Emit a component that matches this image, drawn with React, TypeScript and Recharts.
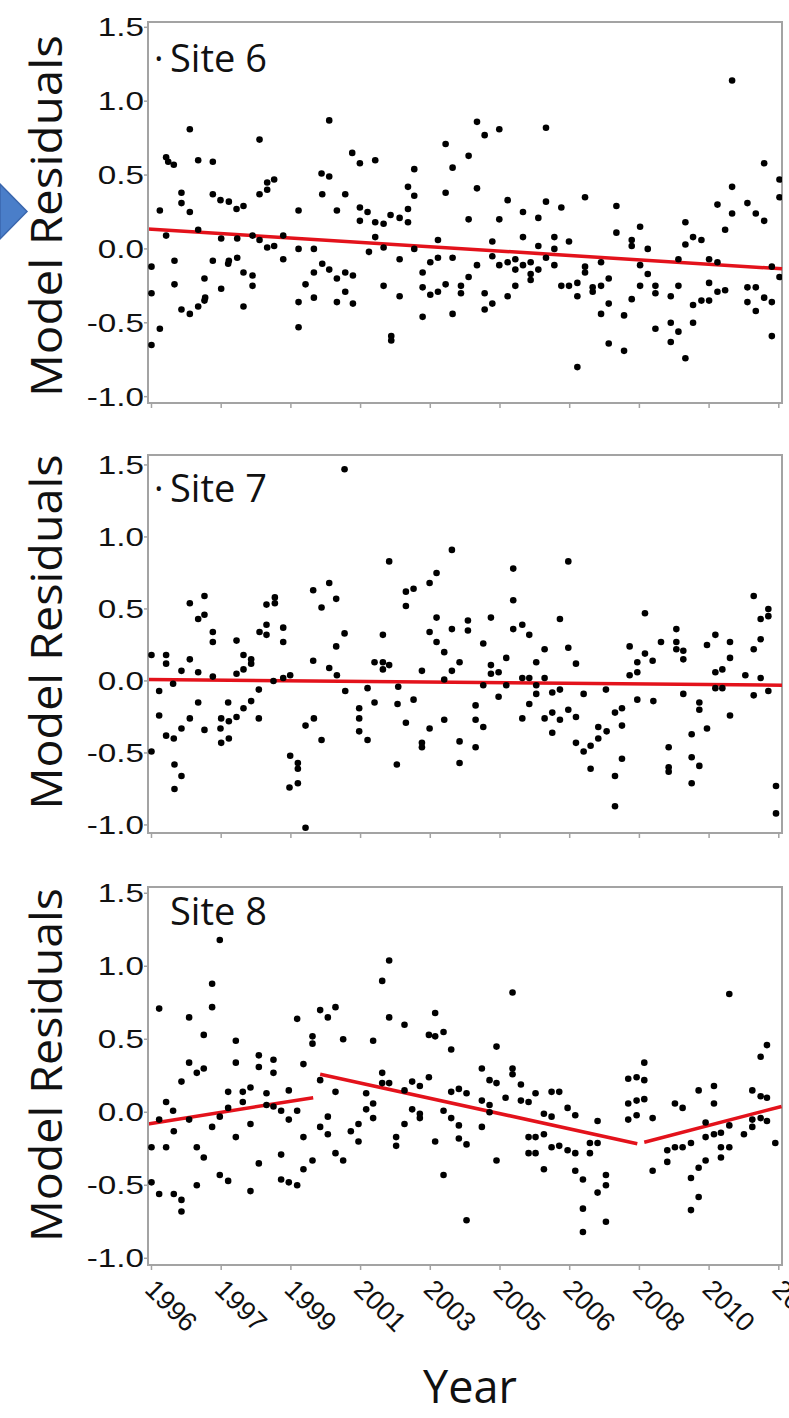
import React from 'react';
import {
  ScatterChart,
  Scatter,
  XAxis,
  YAxis,
  ReferenceLine,
  ReferenceArea,
  Customized,
} from 'recharts';

// x position is measured in tick steps (0 = first labelled year tick)
const yearLabels = ['1996', '1997', '1999', '2001', '2003', '2005', '2006', '2008', '2010', '2012'];
const xTicks = [0, 1, 2, 3, 4, 5, 6, 7, 8, 9];
const yTicks = [-1, -0.5, 0, 0.5, 1, 1.5];

const site6Points: [number, number][] = [
  [0.0, -0.12], [0.0, -0.3], [0.0, -0.65], [0.12, 0.26], [0.12, -0.54], [0.21, 0.62], [0.24, 0.59], [0.21, 0.09],
  [0.32, 0.57], [0.33, -0.08], [0.33, -0.24], [0.43, 0.38], [0.43, 0.31], [0.43, -0.41], [0.55, 0.81], [0.55, 0.25],
  [0.55, -0.44], [0.67, 0.6], [0.67, 0.13], [0.67, -0.39], [0.76, -0.2], [0.76, -0.35], [0.77, -0.33], [0.88, 0.59],
  [0.88, 0.37], [0.88, -0.08], [0.99, 0.33], [1.0, 0.07], [1.0, -0.27], [1.11, 0.32], [1.11, -0.08], [1.1, -0.1],
  [1.22, 0.27], [1.23, 0.07], [1.23, -0.06], [1.32, 0.29], [1.32, -0.39], [1.32, -0.16], [1.45, 0.09], [1.45, -0.18],
  [1.45, -0.25], [1.55, 0.74], [1.55, 0.37], [1.55, 0.06], [1.66, 0.4], [1.66, 0.45], [1.66, 0.01], [1.76, 0.47],
  [1.76, 0.02], [1.89, 0.09], [1.89, -0.07], [2.11, 0.26], [2.11, 0.0], [2.11, -0.36], [2.11, -0.53], [2.21, -0.24],
  [2.33, 0.0], [2.33, -0.16], [2.33, -0.33], [2.44, 0.51], [2.45, 0.37], [2.45, -0.1], [2.55, 0.87], [2.55, 0.49],
  [2.55, -0.14], [2.66, 0.26], [2.66, -0.2], [2.66, -0.36], [2.78, 0.37], [2.78, -0.16], [2.78, -0.29], [2.88, 0.65],
  [2.89, -0.18], [2.89, -0.37], [2.99, 0.58], [2.99, 0.28], [2.99, 0.19], [3.1, 0.25], [3.12, -0.02], [3.21, 0.6],
  [3.21, 0.18], [3.21, 0.08], [3.33, 0.17], [3.33, 0.01], [3.33, -0.25], [3.44, -0.59], [3.44, -0.62], [3.43, 0.23],
  [3.56, 0.21], [3.56, -0.07], [3.56, -0.32], [3.68, 0.42], [3.68, 0.27], [3.68, 0.18], [3.77, 0.54], [3.77, 0.36],
  [3.77, 0.0], [3.89, -0.16], [3.89, -0.26], [3.89, -0.46], [4.0, -0.09], [4.0, -0.31], [4.11, 0.06], [4.11, -0.06],
  [4.11, -0.29], [4.22, 0.71], [4.22, 0.38], [4.22, -0.24], [4.32, 0.55], [4.32, -0.06], [4.32, -0.44], [4.44, -0.25],
  [4.44, -0.3], [4.55, 0.63], [4.55, 0.2], [4.55, -0.19], [4.67, 0.86], [4.67, 0.41], [4.67, -0.11], [4.78, 0.77],
  [4.78, -0.3], [4.78, -0.41], [4.89, 0.05], [4.89, -0.05], [4.89, -0.37], [4.99, 0.81], [4.99, 0.2], [4.99, -0.11],
  [5.11, 0.33], [5.11, -0.09], [5.11, -0.32], [5.22, -0.07], [5.22, -0.14], [5.22, -0.25], [5.33, 0.25], [5.33, 0.08],
  [5.33, -0.11], [5.44, -0.09], [5.44, -0.17], [5.44, -0.21], [5.55, 0.21], [5.55, 0.02], [5.55, -0.14], [5.66, 0.82],
  [5.66, 0.32], [5.66, -0.06], [5.78, 0.08], [5.78, 0.0], [5.78, -0.11], [5.88, 0.28], [5.88, -0.25], [5.99, 0.05],
  [5.99, -0.25], [6.11, -0.23], [6.11, -0.32], [6.11, -0.8], [6.22, 0.35], [6.22, -0.12], [6.22, -0.16], [6.33, -0.26],
  [6.33, -0.29], [6.45, -0.09], [6.45, -0.25], [6.45, -0.44], [6.56, -0.2], [6.56, -0.37], [6.56, -0.64], [6.67, 0.29],
  [6.67, 0.11], [6.78, -0.45], [6.78, -0.69], [6.89, 0.06], [6.89, 0.02], [6.89, -0.34], [7.01, 0.15], [7.01, -0.11],
  [7.01, -0.25], [7.12, 0.0], [7.12, -0.17], [7.23, -0.25], [7.23, -0.3], [7.23, -0.54], [7.45, -0.32], [7.45, -0.5],
  [7.45, -0.63], [7.56, -0.07], [7.56, -0.25], [7.56, -0.56], [7.66, 0.18], [7.66, 0.03], [7.66, -0.74], [7.77, 0.08],
  [7.77, -0.38], [7.77, -0.5], [7.89, 0.06], [7.89, -0.35], [8.0, -0.07], [8.0, -0.23], [8.0, -0.35], [8.12, 0.3],
  [8.12, -0.09], [8.12, -0.29], [8.23, 0.13], [8.23, -0.28], [8.33, 1.14], [8.33, 0.42], [8.33, 0.24], [8.55, 0.31],
  [8.55, -0.26], [8.55, -0.36], [8.67, 0.24], [8.67, -0.26], [8.67, -0.42], [8.79, 0.58], [8.79, 0.19], [8.79, -0.33],
  [8.9, -0.12], [8.9, -0.36], [8.9, -0.59], [9.01, 0.47], [9.01, 0.35], [9.01, -0.19],
];

const site7Points: [number, number][] = [
  [0.0, 0.18], [0.0, -0.49], [0.11, -0.07], [0.11, -0.24], [0.21, 0.18], [0.21, 0.12], [0.21, -0.38], [0.31, -0.02],
  [0.32, -0.4], [0.33, -0.58], [0.33, -0.75], [0.43, 0.07], [0.43, -0.33], [0.43, -0.66], [0.55, 0.54], [0.55, 0.15],
  [0.55, -0.26], [0.67, 0.43], [0.67, 0.06], [0.67, -0.15], [0.76, 0.59], [0.76, 0.46], [0.76, -0.34], [0.88, 0.34],
  [0.88, 0.27], [0.88, 0.03], [0.99, -0.33], [1.0, -0.43], [1.0, -0.26], [1.1, -0.15], [1.11, -0.28], [1.11, -0.4],
  [1.22, 0.28], [1.22, 0.05], [1.22, -0.25], [1.32, 0.18], [1.32, 0.08], [1.32, -0.19], [1.43, 0.15], [1.43, 0.12],
  [1.43, -0.14], [1.54, -0.06], [1.54, -0.26], [1.55, 0.34], [1.65, 0.39], [1.65, 0.53], [1.65, 0.32], [1.75, 0.0],
  [1.77, 0.58], [1.77, 0.54], [1.89, 0.37], [1.89, 0.27], [1.89, 0.02], [1.98, -0.74], [1.99, -0.52], [1.99, 0.04],
  [2.1, -0.57], [2.1, -0.61], [2.1, -0.71], [2.21, -0.31], [2.21, -1.02], [2.32, 0.63], [2.32, 0.14], [2.33, -0.26],
  [2.44, 0.51], [2.44, -0.41], [2.55, 0.68], [2.55, 0.09], [2.65, 0.57], [2.65, 0.24], [2.66, 0.04], [2.77, 1.47],
  [2.77, 0.33], [2.78, -0.07], [2.98, -0.19], [2.98, -0.26], [2.98, -0.35], [3.1, -0.05], [3.1, -0.41], [3.2, -0.15],
  [3.2, 0.13], [3.32, 0.32], [3.32, 0.13], [3.32, 0.08], [3.41, 0.83], [3.41, 0.11], [3.53, -0.16], [3.52, -0.58],
  [3.54, -0.04], [3.65, 0.62], [3.65, 0.52], [3.65, -0.29], [3.76, 0.64], [3.76, -0.13], [3.88, 0.07], [3.88, -0.43],
  [3.88, -0.46], [3.99, 0.68], [3.99, 0.34], [3.99, -0.33], [4.09, 0.75], [4.09, 0.44], [4.09, 0.27], [4.2, 0.2],
  [4.2, 0.01], [4.2, -0.27], [4.31, 0.91], [4.31, 0.36], [4.31, 0.07], [4.42, 0.13], [4.42, -0.42], [4.42, -0.57],
  [4.54, 0.42], [4.54, 0.35], [4.65, -0.17], [4.65, -0.27], [4.65, -0.46], [4.76, 0.26], [4.76, -0.03], [4.76, -0.32],
  [4.87, 0.44], [4.87, 0.11], [4.87, 0.05], [4.98, 0.06], [4.98, -0.11], [5.09, 0.16], [5.09, -0.03], [5.19, 0.78],
  [5.19, 0.56], [5.19, 0.36], [5.32, 0.39], [5.32, 0.02], [5.32, -0.26], [5.42, 0.32], [5.42, 0.02], [5.42, -0.16],
  [5.52, 0.13], [5.52, -0.03], [5.52, -0.09], [5.64, 0.22], [5.64, 0.02], [5.64, -0.26], [5.75, -0.08], [5.75, -0.22],
  [5.75, -0.36], [5.86, 0.43], [5.86, -0.06], [5.86, -0.27], [5.98, 0.83], [5.98, 0.23], [5.98, -0.2], [6.09, 0.12],
  [6.09, -0.25], [6.09, -0.43], [6.2, -0.09], [6.2, -0.49], [6.3, -0.45], [6.3, -0.61], [6.41, -0.32], [6.41, -0.4],
  [6.52, -0.06], [6.53, -0.35], [6.65, -0.22], [6.65, -0.66], [6.65, -0.87], [6.75, -0.19], [6.75, -0.31], [6.75, -0.54],
  [6.86, 0.24], [6.86, 0.04], [6.97, 0.13], [6.97, 0.06], [6.97, -0.13], [7.08, 0.47], [7.08, 0.19], [7.19, 0.14],
  [7.2, -0.14], [7.31, 0.27], [7.42, -0.46], [7.42, -0.6], [7.42, -0.63], [7.53, 0.36], [7.53, 0.27], [7.53, 0.22],
  [7.63, 0.21], [7.63, 0.15], [7.63, -0.09], [7.75, -0.37], [7.75, -0.53], [7.75, -0.71], [7.86, -0.15], [7.86, -0.2],
  [7.86, -0.59], [7.97, 0.25], [7.97, -0.33], [8.09, 0.32], [8.09, 0.06], [8.09, -0.05], [8.19, 0.08], [8.19, -0.05],
  [8.3, 0.27], [8.3, 0.16], [8.3, -0.24], [8.52, 0.04], [8.64, 0.59], [8.64, 0.22], [8.64, -0.1], [8.74, 0.43],
  [8.74, 0.29], [8.74, 0.02], [8.85, 0.5], [8.85, 0.45], [8.85, -0.07], [8.96, -0.73], [8.96, -0.92],
];

const site8Points: [number, number][] = [
  [0.0, -0.24], [0.0, -0.48], [0.11, 0.71], [0.11, -0.56], [0.11, -0.05], [0.21, 0.07], [0.21, -0.24], [0.31, 0.01],
  [0.32, -0.13], [0.32, -0.56], [0.43, 0.21], [0.43, -0.6], [0.43, -0.68], [0.54, 0.65], [0.54, -0.05], [0.54, 0.34],
  [0.65, 0.27], [0.65, -0.24], [0.65, -0.5], [0.75, 0.53], [0.75, 0.3], [0.75, -0.31], [0.87, 0.88], [0.87, 0.72],
  [0.87, -0.1], [0.98, 1.18], [0.98, -0.03], [0.98, -0.43], [1.1, 0.14], [1.1, 0.03], [1.1, -0.47], [1.21, 0.49],
  [1.21, 0.34], [1.21, -0.17], [1.31, 0.14], [1.31, 0.07], [1.42, 0.17], [1.42, -0.08], [1.42, -0.54], [1.54, 0.39],
  [1.54, 0.31], [1.54, -0.35], [1.65, 0.13], [1.65, 0.05], [1.75, 0.36], [1.75, 0.27], [1.75, 0.04], [1.86, 0.01],
  [1.86, -0.29], [1.86, -0.46], [1.97, 0.15], [1.97, -0.05], [1.97, -0.48], [2.09, 0.64], [2.09, 0.01], [2.09, -0.5],
  [2.18, 0.33], [2.18, -0.17], [2.18, -0.39], [2.31, 0.52], [2.31, 0.47], [2.31, -0.33], [2.42, 0.7], [2.42, 0.22],
  [2.42, -0.1], [2.53, 0.65], [2.53, -0.03], [2.53, -0.15], [2.64, 0.72], [2.64, 0.14], [2.64, -0.28], [2.75, 0.5],
  [2.75, -0.33], [2.86, -0.13], [2.97, -0.08], [2.97, -0.2], [3.08, 0.13], [3.08, 0.02], [3.18, 0.49], [3.18, 0.06],
  [3.18, -0.04], [3.31, 0.9], [3.31, 0.27], [3.31, 0.2], [3.41, 1.04], [3.41, 0.65], [3.41, 0.2], [3.51, -0.17],
  [3.51, -0.23], [3.63, 0.6], [3.63, 0.15], [3.63, -0.08], [3.74, 0.21], [3.74, 0.02], [3.85, 0.18], [3.85, -0.01],
  [3.85, -0.04], [3.98, 0.24], [3.98, 0.53], [4.07, 0.68], [4.07, 0.52], [4.07, -0.2], [4.19, 0.55], [4.19, 0.01],
  [4.19, -0.43], [4.3, 0.43], [4.3, 0.14], [4.3, -0.04], [4.41, 0.16], [4.41, -0.09], [4.41, -0.18], [4.52, 0.13],
  [4.52, -0.22], [4.52, -0.74], [4.74, 0.3], [4.74, 0.08], [4.74, -0.1], [4.85, 0.22], [4.85, 0.05], [4.85, 0.0],
  [4.95, 0.45], [4.95, 0.2], [4.95, -0.33], [5.08, 0.1], [5.18, 0.82], [5.18, 0.3], [5.18, 0.26], [5.3, 0.19],
  [5.3, 0.08], [5.41, 0.07], [5.41, -0.17], [5.41, -0.28], [5.51, 0.13], [5.51, -0.17], [5.51, -0.28], [5.63, -0.01],
  [5.63, -0.15], [5.63, -0.39], [5.74, 0.14], [5.74, -0.03], [5.74, -0.24], [5.85, 0.14], [5.85, -0.23], [5.97, 0.03],
  [5.97, -0.26], [6.08, -0.02], [6.08, -0.28], [6.08, -0.4], [6.19, -0.46], [6.19, -0.66], [6.19, -0.82], [6.29, -0.21],
  [6.29, -0.28], [6.4, -0.06], [6.4, -0.21], [6.4, -0.55], [6.52, -0.43], [6.52, -0.5], [6.52, -0.75], [6.84, 0.23],
  [6.84, 0.06], [6.84, -0.05], [6.96, 0.24], [6.96, 0.08], [6.96, -0.02], [7.07, 0.34], [7.07, 0.22], [7.07, 0.09],
  [7.19, -0.04], [7.19, -0.4], [7.4, -0.26], [7.4, -0.34], [7.51, 0.06], [7.51, -0.24], [7.62, 0.03], [7.62, -0.24],
  [7.74, -0.21], [7.74, -0.45], [7.74, -0.67], [7.85, 0.15], [7.85, -0.38], [7.85, -0.58], [7.95, -0.07], [7.95, -0.17],
  [7.95, -0.33], [8.07, 0.18], [8.07, 0.06], [8.07, -0.15], [8.17, -0.14], [8.17, -0.24], [8.17, -0.31], [8.29, 0.81],
  [8.29, -0.09], [8.29, -0.24], [8.5, -0.15], [8.62, 0.15], [8.62, -0.05], [8.62, -0.1], [8.74, 0.38], [8.74, 0.11],
  [8.74, -0.04], [8.83, 0.46], [8.83, 0.1], [8.83, -0.06], [8.95, -0.21],
];

// fitted trend segments, each [[x1, y1], [x2, y2]]
const site6Trend = [[[-0.05, 0.135], [9.046, -0.135]]];
const site7Trend = [[[-0.05, 0.01], [9.046, -0.03]]];
const site8Trend = [
  [[-0.05, -0.08], [2.32, 0.1]],
  [[2.42, 0.26], [6.97, -0.215]],
  [[7.07, -0.205], [9.04, 0.04]],
];

const X_DOMAIN: [number, number] = [-0.05, 9.046];
const AXIS_GREY = '#a3a3a3';
const TEXT_FONT = "'Open Sans', sans-serif";
const TICK_FONT = "'Liberation Sans', Arial, sans-serif";

const panels = [
  {
    site: 'Site 6', points: site6Points, trend: site6Trend, bullet: true, years: false,
    top: 0, height: 440, mTop: 22, mBottom: 7, xHeight: 30, yDomain: [-1.043, 1.536],
    labelY: 216, labelLen: 362, siteY: 72,
  },
  {
    site: 'Site 7', points: site7Points, trend: site7Trend, bullet: true, years: false,
    top: 430, height: 440, mTop: 25, mBottom: 7, xHeight: 30, yDomain: [-1.056, 1.569],
    labelY: 202, labelLen: 355, siteY: 72,
  },
  {
    site: 'Site 8', points: site8Points, trend: site8Trend, bullet: false, years: true,
    top: 860, height: 558, mTop: 27, mBottom: 0, xHeight: 153, yDomain: [-1.046, 1.543],
    labelY: 205, labelLen: 354, siteY: 65,
  },
];

const YTick = (props: any) => {
  const { x, y, payload } = props;
  return (
    <text
      transform={`translate(${x},${y}) scale(1.33,1)`}
      textAnchor="end"
      dy="0.36em"
      fontFamily={TICK_FONT}
      fontSize={25}
      fill="#111"
    >
      {Number(payload.value).toFixed(1)}
    </text>
  );
};

const YearTick = (props: any) => {
  const { x, y, payload } = props;
  return (
    <text
      transform={`translate(${x - 8},${y + 21}) rotate(45)`}
      textAnchor="start"
      fontFamily={TICK_FONT}
      fontSize={27}
      fill="#111"
    >
      {yearLabels[payload.value]}
    </text>
  );
};

const NoTick = () => <g />;

const Dot = (props: any) => <circle cx={props.cx} cy={props.cy} r={3.3} fill="#000" />;

function Panel({ p }: { p: (typeof panels)[number] }) {
  const data = p.points.map(([t, r]) => ({ t, r }));
  const titles = () => (
    <g>
      <text
        x={62}
        y={p.labelY}
        transform={`rotate(-90, 62, ${p.labelY})`}
        textAnchor="middle"
        fontFamily={TEXT_FONT}
        fontSize={43}
        textLength={p.labelLen}
        lengthAdjust="spacingAndGlyphs"
        fill="#111"
      >
        Model Residuals
      </text>
      {p.bullet && (
        <text x={155} y={p.siteY - 6} fontFamily={TEXT_FONT} fontSize={20} fill="#111">
          •
        </text>
      )}
      <text x={170} y={p.siteY} fontFamily={TEXT_FONT} fontSize={38} fill="#111">
        {p.site}
      </text>
      {p.years && (
        <text x={470} y={543} textAnchor="middle" fontFamily={TEXT_FONT} fontSize={45} fill="#111">
          Year
        </text>
      )}
    </g>
  );

  return (
    <div style={{ position: 'absolute', left: 0, top: p.top }}>
      <ScatterChart
        width={789}
        height={p.height}
        margin={{ top: p.mTop, right: 7, bottom: p.mBottom, left: 0 }}
      >
        <XAxis
          type="number"
          dataKey="t"
          domain={X_DOMAIN}
          ticks={xTicks}
          interval={0}
          allowDataOverflow
          height={p.xHeight}
          tickSize={5}
          tickMargin={0}
          axisLine={{ stroke: AXIS_GREY, strokeWidth: 2 }}
          tickLine={{ stroke: AXIS_GREY, strokeWidth: 1.5 }}
          tick={p.years ? <YearTick /> : <NoTick />}
        />
        <YAxis
          type="number"
          dataKey="r"
          domain={p.yDomain}
          ticks={yTicks}
          interval={0}
          allowDataOverflow
          width={148}
          tickSize={4}
          tickMargin={0}
          axisLine={{ stroke: AXIS_GREY, strokeWidth: 2 }}
          tickLine={{ stroke: AXIS_GREY, strokeWidth: 1.5 }}
          tick={<YTick />}
        />
        <ReferenceArea
          x1={X_DOMAIN[0]}
          x2={X_DOMAIN[1]}
          y1={p.yDomain[0]}
          y2={p.yDomain[1]}
          fill="none"
          stroke={AXIS_GREY}
          strokeWidth={2}
          ifOverflow="visible"
        />
        <Scatter data={data} fill="#000" shape={<Dot />} isAnimationActive={false} />
        {p.trend.map((seg, i) => (
          <ReferenceLine
            key={i}
            segment={[
              { x: seg[0][0], y: seg[0][1] },
              { x: seg[1][0], y: seg[1][1] },
            ]}
            stroke="#e3121b"
            strokeWidth={3.5}
            ifOverflow="visible"
          />
        ))}
        <Customized component={titles} />
      </ScatterChart>
    </div>
  );
}

export default function App() {
  return (
    <div
      style={{
        position: 'absolute',
        left: 0,
        top: 0,
        width: 789,
        height: 1418,
        overflow: 'hidden',
        background: '#fff',
      }}
    >
      {panels.map((p) => (
        <Panel key={p.site} p={p} />
      ))}
      <svg width={30} height={260} style={{ position: 'absolute', left: 0, top: 0 }}>
        <polygon points="0,184 27,211.5 0,239" fill="#4a7ec9" stroke="#3a66ad" strokeWidth={1.5} />
      </svg>
    </div>
  );
}
